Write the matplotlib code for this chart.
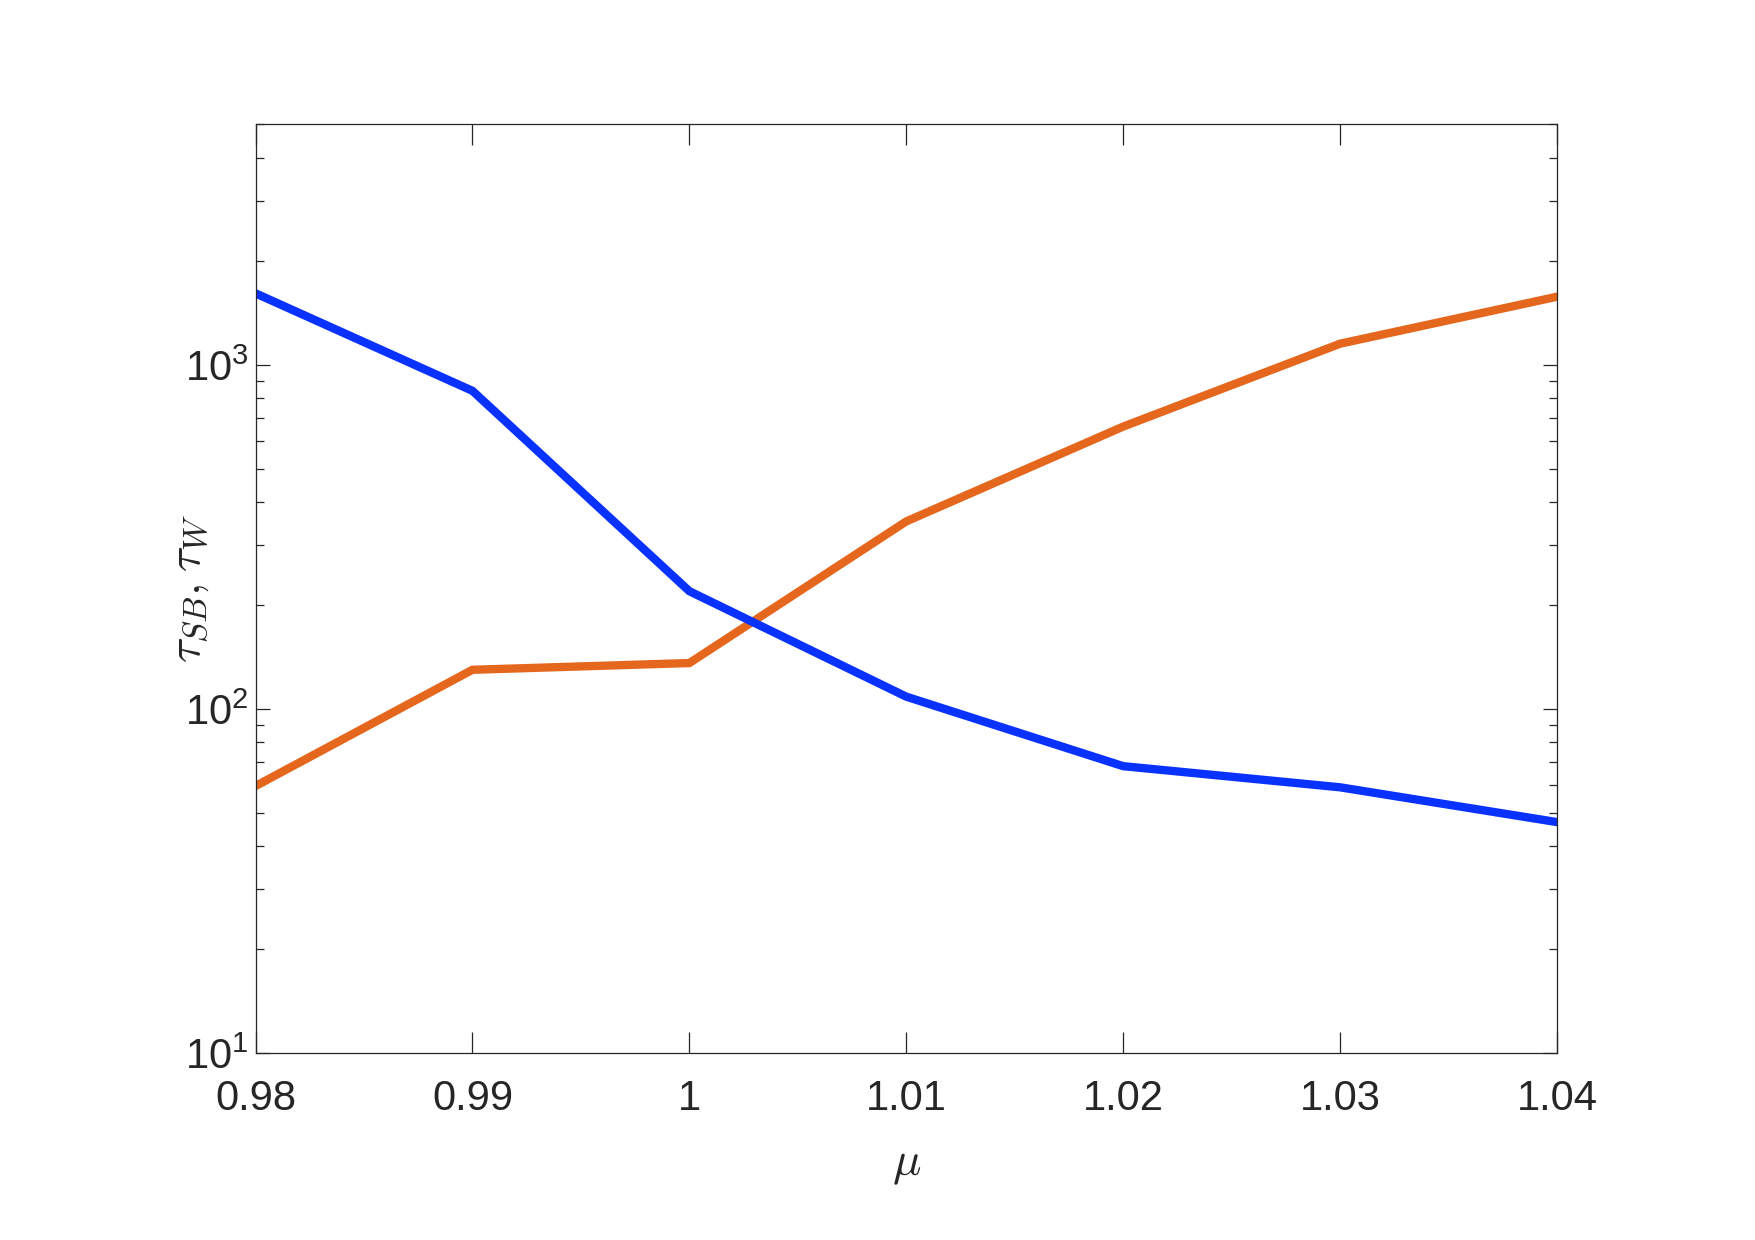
import matplotlib
matplotlib.use("Agg")
import matplotlib.pyplot as plt
from matplotlib.ticker import LogLocator, NullFormatter

plt.rcParams["font.family"] = ["Liberation Sans", "DejaVu Sans"]
plt.rcParams["mathtext.fontset"] = "cm"
plt.rcParams["mathtext.default"] = "regular"

# mu values and the two time scales
mu = [0.98, 0.99, 1.00, 1.01, 1.02, 1.03, 1.04]
tau_sb = [1615, 841, 220, 108.6, 68.2, 59.2, 46.9]
tau_w = [59.7, 130, 136, 351, 662, 1153, 1579]
xtick_labels = ["0.98", "0.99", "1", "1.01", "1.02", "1.03", "1.04"]

fig = plt.figure(figsize=(17.55, 12.4), dpi=100)
ax = fig.add_axes([0.1456, 0.1508, 0.7416, 0.7488])

ax.plot(mu, tau_w, color="#E5671E", lw=6, solid_joinstyle="miter")
ax.plot(mu, tau_sb, color="#0A32FF", lw=6, solid_joinstyle="miter")

ax.set_yscale("log")
ax.set_xlim(0.98, 1.04)
ax.set_ylim(10, 5000)
ax.set_xticks(mu, xtick_labels)
ax.yaxis.set_major_locator(LogLocator(base=10, numticks=10))
ax.yaxis.set_minor_locator(LogLocator(base=10, subs=range(2, 10), numticks=20))
ax.yaxis.set_minor_formatter(NullFormatter())

for s in ax.spines.values():
    s.set_color("#262626")
    s.set_linewidth(0.9)

ax.tick_params(axis="both", which="both", direction="in", top=True, right=True,
               colors="#262626", labelsize=30, width=0.9)
ax.tick_params(axis="x", which="major", length=15, pad=19)
ax.tick_params(axis="y", which="major", length=10, pad=5)
ax.tick_params(axis="y", which="minor", length=6)

ax.set_xlabel(r"$\mathit{\mu}$", fontsize=34, color="#262626", labelpad=17)
ax.set_ylabel(r"$\mathit{\tau}_{\mathit{SB}}\mathrm{,}\;\mathit{\tau}_{\mathit{W}}$",
              fontsize=34, color="#262626")
ax.yaxis.set_label_coords(-0.034, 0.5)

fig.savefig("out.png", dpi=100)
